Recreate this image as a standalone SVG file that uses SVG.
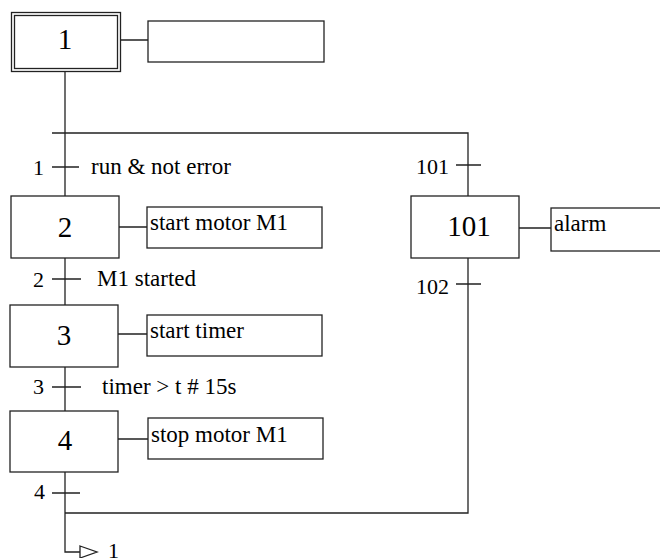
<svg xmlns="http://www.w3.org/2000/svg" width="660" height="558" viewBox="0 0 660 558">
<style>
.box{fill:#fff;stroke:#222;stroke-width:1.3}
.ln{fill:none;stroke:#222;stroke-width:1.3}
.step{font-family:"Liberation Serif","Times New Roman",serif;font-size:29px;fill:#000;text-anchor:middle}
.act{font-family:"Liberation Serif","Times New Roman",serif;font-size:23px;fill:#000}
.tn{font-family:"Liberation Serif","Times New Roman",serif;font-size:22px;fill:#000;text-anchor:end}
.tl{font-family:"Liberation Serif","Times New Roman",serif;font-size:23px;fill:#000}
</style>
<rect width="660" height="558" fill="#fff"/>
<g id="connectors">
<path class="ln" d="M65 72V552H80"/>
<path class="ln" d="M52 133H468V513H65"/>
<path class="ln" d="M121 40H148M119 227H147M118 334H147M118 439H148M519 228H551"/>
<path class="ln" d="M52 167H79M52 279H81M52 387H81M52 493H80M456 165H481M456 284H481"/>
<path class="ln" d="M80 546L97 552L80 558Z"/>
</g>
<g id="step1">
<rect class="box" x="11.5" y="12.5" width="109" height="59"/>
<rect class="box" x="14.5" y="15.5" width="103" height="53"/>
<text class="step" x="65" y="49">1</text>
</g>
<g id="action1"><rect class="box" x="148" y="21" width="176" height="41"/></g>
<g id="t1"><text class="tn" x="44" y="175">1</text><text class="tl" x="91" y="174">run &amp; not error</text></g>
<g id="step2">
<rect class="box" x="11" y="196" width="108" height="62"/>
<text class="step" x="65" y="237">2</text>
</g>
<g id="action2"><rect class="box" x="147" y="207" width="175" height="41"/><text class="act" x="150" y="230">start motor M1</text></g>
<g id="t2"><text class="tn" x="44" y="287">2</text><text class="tl" x="97" y="286">M1 started</text></g>
<g id="step3">
<rect class="box" x="10" y="305" width="108" height="62"/>
<text class="step" x="64" y="345">3</text>
</g>
<g id="action3"><rect class="box" x="147" y="315" width="175" height="41"/><text class="act" x="150" y="338">start timer</text></g>
<g id="t3"><text class="tn" x="44" y="394">3</text><text class="tl" x="102" y="394">timer &gt; t # 15s</text></g>
<g id="step4">
<rect class="box" x="10" y="411" width="108" height="61"/>
<text class="step" x="65" y="450">4</text>
</g>
<g id="action4"><rect class="box" x="148" y="418" width="175" height="41"/><text class="act" x="151" y="442">stop motor M1</text></g>
<g id="t4"><text class="tn" x="45" y="499">4</text></g>
<g id="t101"><text class="tn" x="449" y="174">101</text></g>
<g id="step101">
<rect class="box" x="411" y="196" width="108" height="62"/>
<text class="step" x="469" y="236">101</text>
</g>
<g id="action101"><rect class="box" x="551" y="208" width="112" height="43"/><text class="act" x="554" y="231">alarm</text></g>
<g id="t102"><text class="tn" x="449" y="294">102</text></g>
<g id="jump1"><text class="tn" x="119" y="558">1</text></g>
</svg>
